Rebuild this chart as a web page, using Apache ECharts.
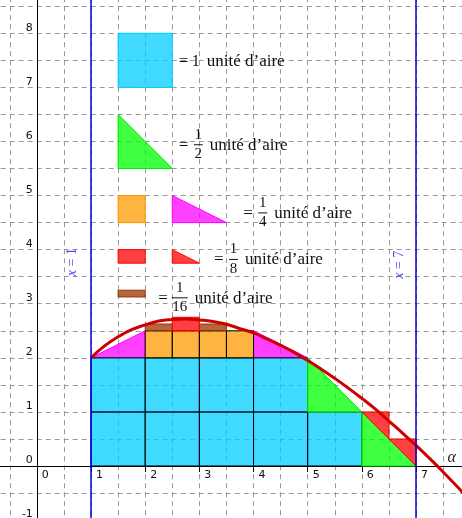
<!DOCTYPE html>
<html>
<head>
<meta charset="utf-8">
<script src="https://cdn.jsdelivr.net/npm/echarts@6/dist/echarts.min.js"></script>
<style>
  html, body { margin: 0; padding: 0; background: #fff; }
  #main { width: 462px; height: 518px; }
</style>
</head>
<body>
<div id="main"></div>
<script>
// courbe
const curveX = [1, 1.25, 1.5, 1.75, 2, 2.25, 2.5, 2.75, 3, 3.25, 3.5, 3.75, 4, 4.25, 4.5, 4.75, 5, 5.25, 5.5, 5.75, 6, 6.25, 6.5, 6.75, 7, 7.25, 7.5, 7.75, 8];
const curveY = [2, 2.22, 2.39, 2.52, 2.61, 2.68, 2.71, 2.72, 2.70, 2.67, 2.62, 2.54, 2.46, 2.35, 2.23, 2.10, 1.95, 1.79, 1.62, 1.44, 1.25, 1.05, 0.83, 0.61, 0.38, 0.14, -0.11, -0.37, -0.64];
const boundX = [1, 7];
const boundLabels = ['{i|x} = 1', '{i|x} = 7'];
const boundLabelPos = [[0.66, 3.77], [6.69, 3.72]];
const alphaPos = [7.66, 0.16];

// pavage sous la courbe : rectangles [x0, y0, x1, y1], triangles [xa, ya, xb, yb, xc, yc]
const unitCells = [[1, 0, 2, 1], [2, 0, 3, 1], [3, 0, 4, 1], [4, 0, 5, 1], [5, 0, 6, 1],
                   [1, 1, 2, 2], [2, 1, 3, 2], [3, 1, 4, 2], [4, 1, 5, 2]];
const quarterCells = [[2, 2, 2.5, 2.5], [2.5, 2, 3, 2.5], [3, 2, 3.5, 2.5], [3.5, 2, 4, 2.5]];
const eighthCells = [[2.5, 2.5, 3, 2.75]];
const sixteenthCells = [[2, 2.5, 2.5, 2.625], [3, 2.5, 3.5, 2.625]];
const halfTris = [[5, 1, 5, 2, 6, 1], [6, 0, 6, 1, 7, 0]];
const quarterTris = [[1, 2, 2, 2.5, 2, 2], [4, 2.5, 4, 2, 5, 2]];
const eighthTris = [[6, 1, 6.5, 1, 6.5, 0.5], [6.5, 0.5, 7, 0.5, 7, 0]];

// légende
const keyUnit = [[1.5, 7, 2.5, 8]];
const keyHalf = [[1.5, 6.5, 1.5, 5.5, 2.5, 5.5]];
const keyQuarterCell = [[1.5, 4.5, 2, 5]];
const keyQuarterTri = [[2.5, 5, 2.5, 4.5, 3.5, 4.5]];
const keyEighthCell = [[1.5, 3.75, 2, 4]];
const keyEighthTri = [[2.5, 4, 2.5, 3.75, 3, 3.75]];
const keySixteenthCell = [[1.5, 3.125, 2, 3.25]];
const keyNum = ['1', '1', '1', '1', '1'];
const keyDen = ['', '2', '4', '8', '16'];
const keyAnchors = [[2.62, 7.47], [2.62, 5.93], [3.81, 4.67], [3.27, 3.81], [2.24, 3.10]];
const keyText = 'unité d’aire';

const serif = '"Liberation Serif", "DejaVu Serif", serif';

const cyan = ['rgba(0,204,255,0.75)', '#00ccff'];
const green = ['rgba(0,255,0,0.75)', '#00ee00'];
const orange = ['rgba(255,153,0,0.75)', '#ff9900'];
const magenta = ['rgba(255,0,255,0.75)', '#ff00ff'];
const red = ['rgba(255,0,0,0.75)', '#ff0000'];
const brown = ['rgba(153,51,0,0.75)', '#993300'];

var chart = echarts.init(document.getElementById('main'));

function polySeries (list, col, stroke) {
  return {
    type: 'custom',
    coordinateSystem: 'cartesian2d',
    silent: true,
    data: list.map(function (s) { return [s[0], s[1]]; }),
    renderItem: function (params, api) {
      let s = list[params.dataIndex];
      let pts;
      if (s.length === 4) {
        pts = [[s[0], s[1]], [s[2], s[1]], [s[2], s[3]], [s[0], s[3]]];
      } else {
        pts = [[s[0], s[1]], [s[2], s[3]], [s[4], s[5]]];
      }
      return {
        type: 'polygon',
        shape: { points: pts.map(function (p) { return api.coord(p); }) },
        style: { fill: col[0], stroke: stroke || col[1], lineWidth: 1 }
      };
    }
  };
}

function keyTextItem (params, api) {
  let i = params.dataIndex;
  let a = api.coord(keyAnchors[i]);
  let x = a[0], y = a[1];
  let kids = [{
    type: 'text', x: x, y: y,
    style: { text: '=', font: '17px ' + serif, fill: '#111', align: 'left', verticalAlign: 'middle' }
  }];
  let unitX;
  if (keyDen[i] === '') {
    kids.push({
      type: 'text', x: x + 17, y: y,
      style: { text: keyNum[i], font: '16px ' + serif, fill: '#111', align: 'center', verticalAlign: 'middle' }
    });
    unitX = x + 28;
  } else {
    let w = keyDen[i].length > 1 ? 16 : 9;
    let cx = x + (keyDen[i].length > 1 ? 21.5 : 19.5);
    kids.push({
      type: 'text', x: cx, y: y - 10.5,
      style: { text: keyNum[i], font: '15px ' + serif, fill: '#111', align: 'center', verticalAlign: 'middle' }
    });
    kids.push({
      type: 'line', shape: { x1: cx - w / 2, y1: y - 0.5, x2: cx + w / 2, y2: y - 0.5 },
      style: { stroke: '#111', lineWidth: 1 }
    });
    kids.push({
      type: 'text', x: cx, y: y + 9,
      style: { text: keyDen[i], font: '15px ' + serif, fill: '#111', align: 'center', verticalAlign: 'middle' }
    });
    unitX = cx + w / 2 + 7;
  }
  kids.push({
    type: 'text', x: unitX, y: y,
    style: { text: keyText, font: '17px ' + serif, fill: '#111', align: 'left', verticalAlign: 'middle' }
  });
  return { type: 'group', children: kids };
}

const axisCommon = {
  type: 'value',
  interval: 1,
  axisLine: { onZero: false, lineStyle: { color: '#000', width: 1 } },
  splitLine: { show: true, lineStyle: { color: '#999', type: [5, 4], width: 1 } },
  minorTick: { show: false, splitNumber: 2 },
  minorSplitLine: { show: true, lineStyle: { color: '#999', type: [5, 4], width: 1 } }
};

var option = {
  animation: false,
  backgroundColor: '#fff',
  grid: {
    left: -17.3, right: -8.2, top: -20.8, bottom: -2.1,
    containLabel: false, outerBoundsMode: 'none'
  },
  xAxis: Object.assign({}, axisCommon, {
    min: -1, max: 8,
    position: 'bottom',
    offset: -54.1,
    axisTick: { show: true, inside: false, length: 6, lineStyle: { color: '#000' } },
    axisLabel: {
      color: '#111', fontSize: 11, fontFamily: 'DejaVu Sans',
      align: 'left', padding: [0, 0, 0, 5], margin: 4, showMinLabel: true, showMaxLabel: true
    }
  }),
  yAxis: Object.assign({}, axisCommon, {
    min: -1, max: 9,
    position: 'left',
    offset: -54.17,
    axisTick: { show: false },
    axisLabel: {
      color: '#111', fontSize: 11, fontFamily: 'DejaVu Sans',
      verticalAlign: 'bottom', margin: 4, showMinLabel: true, showMaxLabel: true
    }
  }),
  series: [
    // pavage
    polySeries(quarterTris, magenta),
    polySeries(unitCells, cyan, '#000'),
    polySeries(quarterCells, orange, '#000'),
    polySeries(sixteenthCells, brown),
    polySeries(eighthCells, red),
    polySeries(halfTris, green),
    polySeries(eighthTris, red),
    // légende
    polySeries(keyUnit, cyan),
    polySeries(keyHalf, green),
    polySeries(keyQuarterCell, orange),
    polySeries(keyQuarterTri, magenta),
    polySeries(keyEighthCell, red),
    polySeries(keyEighthTri, red),
    polySeries(keySixteenthCell, brown),
    {
      type: 'custom',
      coordinateSystem: 'cartesian2d',
      silent: true,
      data: keyAnchors,
      renderItem: keyTextItem
    },
    // courbe
    {
      type: 'line',
      data: curveX.map(function (x, i) { return [x, curveY[i]]; }),
      smooth: true,
      showSymbol: false,
      clip: true,
      lineStyle: { color: '#cc0000', width: 3 },
      markLine: {
        silent: true,
        symbol: 'none',
        label: { show: false },
        lineStyle: { color: '#0000dd', type: 'solid', width: 1.5 },
        data: boundX.map(function (v) { return { xAxis: v }; })
      }
    },
    // étiquettes x = 1, x = 7, alpha
    {
      type: 'custom',
      coordinateSystem: 'cartesian2d',
      silent: true,
      data: boundLabelPos,
      renderItem: function (params, api) {
        let p = api.coord(boundLabelPos[params.dataIndex]);
        return {
          type: 'text', x: p[0], y: p[1], rotation: Math.PI / 2,
          style: {
            text: boundLabels[params.dataIndex],
            font: '14px ' + serif, fill: '#4848ff', align: 'center', verticalAlign: 'middle',
            rich: { i: { fontStyle: 'italic', font: 'italic 14px ' + serif, fill: '#4848ff' } }
          }
        };
      }
    },
    {
      type: 'custom',
      coordinateSystem: 'cartesian2d',
      silent: true,
      data: [alphaPos],
      renderItem: function (params, api) {
        let p = api.coord(alphaPos);
        return {
          type: 'text', x: p[0], y: p[1],
          style: { text: 'α', font: 'italic 16px ' + serif, fill: '#222', align: 'center', verticalAlign: 'middle' }
        };
      }
    }
  ]
};

chart.setOption(option);
</script>
</body>
</html>
